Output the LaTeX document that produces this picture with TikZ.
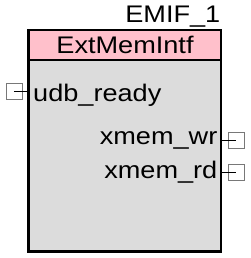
\documentclass[tikz,border=0pt]{standalone}
\usepackage{fontspec}
\setmainfont{Liberation Sans}[FakeStretch=1.13]
\definecolor{hdrpink}{RGB}{255,192,203}
\definecolor{bodygray}{RGB}{220,220,220}
\definecolor{portgray}{RGB}{120,120,120}
\begin{document}
\begin{tikzpicture}[x=1pt,y=-1pt,
  lbl/.style={inner sep=0pt,font=\fontsize{24}{28}\selectfont},
  portbox/.style={draw=portgray,fill=white,line width=0.8pt,minimum size=16pt,inner sep=0pt},
  wire/.style={draw=black,line width=0.9pt}]
\useasboundingbox (0,0) rectangle (250,258);
% body
\node[draw=black,fill=bodygray,line width=2.5pt,minimum width=192.5pt,minimum height=221.5pt,inner sep=0pt] (body) at (124.75,140.75) {};
\node[draw=black,fill=hdrpink,line width=2.5pt,minimum width=192.5pt,minimum height=30pt,inner sep=0pt] (hdr) at (124.75,45) {};
\node[lbl,anchor=base] (hdrtext) at (125,53) {ExtMemIntf};
\node[lbl,anchor=base east] (inst) at (220.5,22.5) {EMIF\_1};
% ports
\node[lbl,anchor=base west] (udb) at (33,101) {udb\_ready};
\node[lbl,anchor=base east] (wr) at (217.5,144.5) {xmem\_wr};
\node[lbl,anchor=base east] (rd) at (217.5,178.5) {xmem\_rd};
\node[portbox] (pudb) at (14,91.5) {};
\node[portbox] (pwr) at (236,140) {};
\node[portbox] (prd) at (236,172) {};
\coordinate (cudb) at (28.5,91.5);
\coordinate (cwr) at (221,140);
\coordinate (crd) at (221,172);
\draw[wire] (pudb.center) -- (cudb);
\draw[wire] (cwr) -- (pwr.center);
\draw[wire] (crd) -- (prd.center);
\end{tikzpicture}
\end{document}
